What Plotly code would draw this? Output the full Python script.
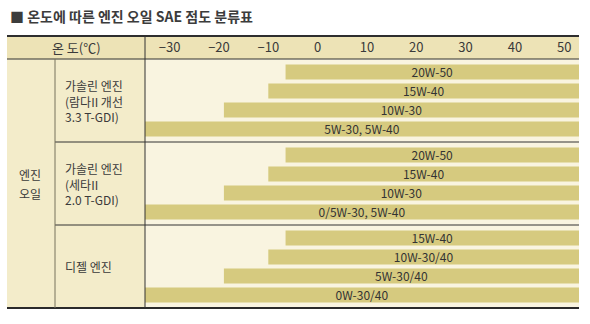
import plotly.graph_objects as go

# ---- data -------------------------------------------------------------
title_text = "■ 온도에 따른 엔진 오일 SAE 점도 분류표"
header_label = "온 도(℃)"
category_label = ["엔진", "오일"]
temp_ticks = [-30, -20, -10, 0, 10, 20, 30, 40, 50]

engine_groups = [
    ["가솔린 엔진", "(람다II 개선", "3.3 T-GDI)"],
    ["가솔린 엔진", "(세타II", "2.0 T-GDI)"],
    ["디젤 엔진"],
]
oil_grades = [
    ["20W-50", "15W-40", "10W-30", "5W-30, 5W-40"],
    ["20W-50", "15W-40", "10W-30", "0/5W-30, 5W-40"],
    ["15W-40", "10W-30/40", "5W-30/40", "0W-30/40"],
]
# lowest ambient temperature (°C) for each grade; every range runs to the hot end
low_temp = [
    [-6.5, -10, -19, -35],
    [-6.5, -10, -19, -35],
    [-6.5, -10, -19, -35],
]
high_temp = 53
temp_range = [-35, 53]

# ---- geometry ---------------------------------------------------------
W, H = 590, 324
L, R, T, B = 145, 579, 59, 308          # plot area in pixels
TABLE_LEFT, HEADER_TOP, COL1_RIGHT = 7, 36, 55
GROUP_SPAN = 4.37                        # rows per engine block
PAD = 0.18
n_groups = len(oil_grades)
y_total = n_groups * GROUP_SPAN

FONT = "Noto Sans CJK KR"
TXT = "#3a3a3a"
BAR = "#d6ca7f"
BODY_BG = "#f9f4e0"
SIDE_BG = "#f3ecca"
HEAD_BG = "#ede3b6"


def xp(px):
    return (px - L) / (R - L)


def yp(py):
    return (B - py) / (B - T)


ys, widths, bases, labels = [], [], [], []
for g, (grades, lows) in enumerate(zip(oil_grades, low_temp)):
    for i, (grade, lo) in enumerate(zip(grades, lows)):
        ys.append(g * GROUP_SPAN + PAD + i + 0.5)
        bases.append(lo)
        widths.append(high_temp - lo)
        labels.append(grade)

fig = go.Figure(
    go.Bar(
        orientation="h",
        y=ys,
        x=widths,
        base=bases,
        width=0.79,
        marker=dict(color=BAR, line=dict(width=0)),
        text=labels,
        textposition="inside",
        insidetextanchor="middle",
        constraintext="none",
        textangle=0,
        textfont=dict(family=FONT, size=12, color="#333333"),
        hoverinfo="skip",
    )
)

shapes = []
# backgrounds
shapes.append(dict(type="rect", xref="paper", yref="paper", layer="below",
                   x0=xp(TABLE_LEFT), x1=xp(R), y0=yp(T), y1=yp(HEADER_TOP),
                   fillcolor=HEAD_BG, line=dict(width=0)))
shapes.append(dict(type="rect", xref="paper", yref="paper", layer="below",
                   x0=xp(TABLE_LEFT), x1=xp(L), y0=yp(B), y1=yp(T),
                   fillcolor=SIDE_BG, line=dict(width=0)))


def hline(py, x0, x1, color="#333333", width=1):
    shapes.append(dict(type="line", xref="paper", yref="paper", layer="above",
                       x0=xp(x0), x1=xp(x1), y0=yp(py), y1=yp(py),
                       line=dict(color=color, width=width)))


def vline(px, y0, y1, color="#333333", width=1):
    shapes.append(dict(type="line", xref="paper", yref="paper", layer="above",
                       x0=xp(px), x1=xp(px), y0=yp(y0), y1=yp(y1),
                       line=dict(color=color, width=width)))


hline(HEADER_TOP, TABLE_LEFT, R, "#2e2e2e", 2)
hline(T, TABLE_LEFT, R, "#333333", 1)
hline(B, TABLE_LEFT, R, "#2a2a2a", 2)
group_px = (B - T) / n_groups
for g in range(1, n_groups):
    hline(T + g * group_px, COL1_RIGHT, R, "#333333", 1)
vline(L, HEADER_TOP, B, "#333333", 1)
vline(COL1_RIGHT, T, B, "#77725c", 1)

annotations = []
annotations.append(dict(text=title_text, xref="paper", yref="paper",
                        x=xp(8), y=yp(16), xanchor="left", yanchor="middle",
                        showarrow=False,
                        font=dict(family=FONT, size=14, color="#3c3c3c", weight="bold")))
annotations.append(dict(text=header_label, xref="paper", yref="paper",
                        x=xp((TABLE_LEFT + L) / 2), y=yp(47.5), xanchor="center",
                        yanchor="middle", showarrow=False,
                        font=dict(family=FONT, size=13, color=TXT)))
mid = (T + B) / 2
CAT_LINE = 19
for k, word in enumerate(category_label):
    offset = (k - (len(category_label) - 1) / 2) * CAT_LINE
    annotations.append(dict(text=word, xref="paper", yref="paper",
                            x=xp(30), y=yp(mid + offset), xanchor="center",
                            yanchor="middle", showarrow=False,
                            font=dict(family=FONT, size=12, color=TXT)))
for g, lines in enumerate(engine_groups):
    centre = T + (g + 0.5) * group_px
    annotations.append(dict(text="<br>".join(lines), xref="paper", yref="paper",
                            x=xp(63), y=yp(centre), xanchor="left", yanchor="middle",
                            align="left", showarrow=False,
                            font=dict(family=FONT, size=12, color=TXT)))

fig.update_layout(
    width=W, height=H, autosize=False,
    margin=dict(l=L, r=W - R, t=T, b=H - B, pad=0),
    paper_bgcolor="white",
    plot_bgcolor=BODY_BG,
    showlegend=False,
    shapes=shapes,
    annotations=annotations,
    xaxis=dict(side="top", range=temp_range, tickvals=temp_ticks,
               ticks="", showgrid=False, zeroline=False, showline=False,
               ticklabelstandoff=3,
               tickfont=dict(family=FONT, size=13, color=TXT), fixedrange=True),
    yaxis=dict(range=[y_total, 0], visible=False, fixedrange=True),
)

fig.write_html("out.html", config=dict(displayModeBar=False))
